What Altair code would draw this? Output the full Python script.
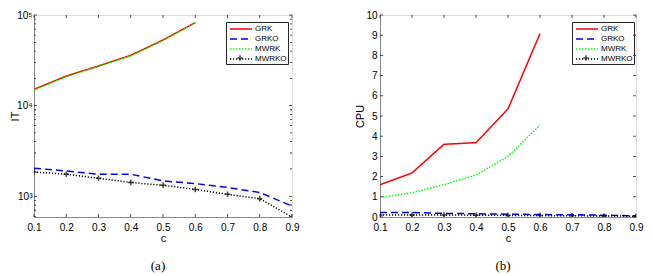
import altair as alt
import pandas as pd

c_vals = [0.1, 0.2, 0.3, 0.4, 0.5, 0.6, 0.7, 0.8, 0.9]
series = ["GRK", "GRKO", "MWRK", "MWRKO"]

it_grk = [15100, 21200, 27400, 35900, 53000, 82400]
it_grko = [2040, 1900, 1750, 1750, 1475, 1380, 1250, 1100, 780]
it_mwrk = [14800, 20800, 27000, 35300, 52200, 81500]
it_mwrko = [1850, 1750, 1580, 1420, 1320, 1190, 1050, 940, 590]

cpu_grk = [1.6, 2.18, 3.6, 3.68, 5.35, 9.08]
cpu_grko = [0.22, 0.22, 0.18, 0.16, 0.14, 0.12, 0.11, 0.09, 0.06]
cpu_mwrk = [0.96, 1.2, 1.6, 2.08, 3.0, 4.55]
cpu_mwrko = [0.1, 0.1, 0.1, 0.09, 0.08, 0.07, 0.06, 0.05, 0.04]

it_major = [1000, 10000, 100000]
it_minor = [600, 700, 800, 900, 2000, 3000, 4000, 5000, 6000, 7000, 8000, 9000,
            20000, 30000, 40000, 50000, 60000, 70000, 80000, 90000]
cpu_ticks = [0, 1, 2, 3, 4, 5, 6, 7, 8, 9, 10]

colors = ["#ff0000", "#0000ff", "#00ff00", "#000000"]
dashes = [[1, 0], [7, 4], [1.5, 1.5], [1.2, 1.8]]

FONT = "Liberation Sans"
BOX = "#262626"
W1, W2, H = 258, 256, 202
LEG_X, LEG_Y = 192, 7


def long_df(vals, field):
    rows = []
    for s, v in zip(series, vals):
        for c, y in zip(c_vals, v):
            rows.append({"c": c, field: y, "series": s})
    return pd.DataFrame(rows)


df_it = long_df([it_grk, it_grko, it_mwrk, it_mwrko], "IT")
df_cpu = long_df([cpu_grk, cpu_grko, cpu_mwrk, cpu_mwrko], "CPU")

color_scale = alt.Scale(domain=series, range=colors)
dash_scale = alt.Scale(domain=series, range=dashes)

legend = alt.Legend(
    title=None, orient="none", legendX=LEG_X, legendY=LEG_Y,
    fillColor="transparent", strokeColor=BOX, padding=1, columnPadding=0,
    labelFont=FONT, labelFontSize=8, labelColor="black",
    symbolType="M-2.2,0H2.2", symbolSize=100, symbolStrokeWidth=1.5,
    symbolOffset=8, labelOffset=8, rowPadding=0,
)

x_scale = alt.Scale(domain=[0.1, 0.9], nice=False, zero=False)
x_axis = alt.Axis(values=c_vals, format=".1f", title="c", labelPadding=5,
                  titlePadding=0, titleFontWeight="normal", grid=False,
                  labelFlush=False, tickSize=0)

plus_path = "M-1,0H1M0,-1V1"


def panel(df, field, y_scale, y_axis, W, major, minor, caption):
    X = alt.X("c:Q", scale=x_scale, axis=x_axis)
    Y = alt.Y(f"{field}:Q", scale=y_scale, axis=y_axis)
    lines = alt.Chart(df).mark_line(strokeWidth=1.5, clip=True).encode(
        x=X, y=Y,
        color=alt.Color("series:N", scale=color_scale, legend=legend),
        strokeDash=alt.StrokeDash("series:N", scale=dash_scale, legend=legend),
    )
    pts = alt.Chart(df).transform_filter(alt.datum.series == "MWRKO").mark_point(
        shape=plus_path, size=30, strokeWidth=1.5, color="black", clip=True
    ).encode(x=X, y=Y)
    # plus glyph of the MWRKO legend key
    key = alt.Chart(pd.DataFrame({"series": ["MWRKO"]})).mark_point(
        shape=plus_path, size=30, strokeWidth=1.5, color="black"
    ).encode(x=alt.value(LEG_X + 14), y=alt.value(LEG_Y + 36))

    layers = [lines, pts, key]
    tick_sets = [(major, 3)] + ([(minor, 2)] if minor else [])
    for vals, ln in tick_sets:
        tdf = pd.DataFrame({field: vals})
        layers.append(alt.Chart(tdf).mark_tick(
            orient="horizontal", size=ln, thickness=0.8, color=BOX, opacity=1
        ).encode(y=Y, x=alt.value(ln / 2)))
        layers.append(alt.Chart(tdf).mark_tick(
            orient="horizontal", size=ln, thickness=0.8, color=BOX, opacity=1
        ).encode(y=Y, x=alt.value(W - ln / 2)))
    xdf = pd.DataFrame({"c": c_vals})
    layers.append(alt.Chart(xdf).mark_tick(
        orient="vertical", size=3, thickness=0.8, color=BOX, opacity=1
    ).encode(x=X, y=alt.value(H - 1.5)))
    layers.append(alt.Chart(xdf).mark_tick(
        orient="vertical", size=3, thickness=0.8, color=BOX, opacity=1
    ).encode(x=X, y=alt.value(1.5)))

    return alt.layer(*layers).properties(
        width=W, height=H,
        title=alt.TitleParams(caption, orient="bottom", font="Liberation Serif",
                              fontSize=13, fontWeight="normal", color="black",
                              anchor="middle", frame="group", offset=17, dx=-5),
    )


left = panel(
    df_it, "IT",
    alt.Scale(type="log", domain=[590, 100000], nice=False),
    alt.Axis(values=it_major, title="IT", labelPadding=2, titlePadding=0,
             minExtent=14, maxExtent=14, titleFontWeight="normal", grid=False,
             tickSize=0, labelFlush=False,
             labelExpr="datum.value == 1000 ? '10³' : datum.value == 10000 ? '10⁴' : '10⁵'"),
    W1, it_major, it_minor, "(a)",
)
right = panel(
    df_cpu, "CPU",
    alt.Scale(domain=[0, 10], nice=False),
    alt.Axis(values=cpu_ticks, title="CPU", labelPadding=3, titlePadding=1,
             minExtent=14, maxExtent=14, titleFontWeight="normal", grid=False,
             tickSize=0, labelFlush=False),
    W2, cpu_ticks, None, "(b)",
)

chart = alt.hconcat(left, right, spacing=53).properties(
    padding={"left": 0, "top": 1, "right": 0, "bottom": 0}
).resolve_scale(color="independent", strokeDash="independent").configure_axis(
    domain=False, ticks=False, grid=False, gridOpacity=0, tickSize=0,
    labelFont=FONT, labelFontSize=8, labelColor=BOX,
    titleFont=FONT, titleFontSize=9, titleColor=BOX, titleFontWeight="normal",
).configure_view(stroke=BOX, strokeWidth=0.8).configure(background="white")

chart.save("out.html", embed_options={"renderer": "svg", "actions": False})
